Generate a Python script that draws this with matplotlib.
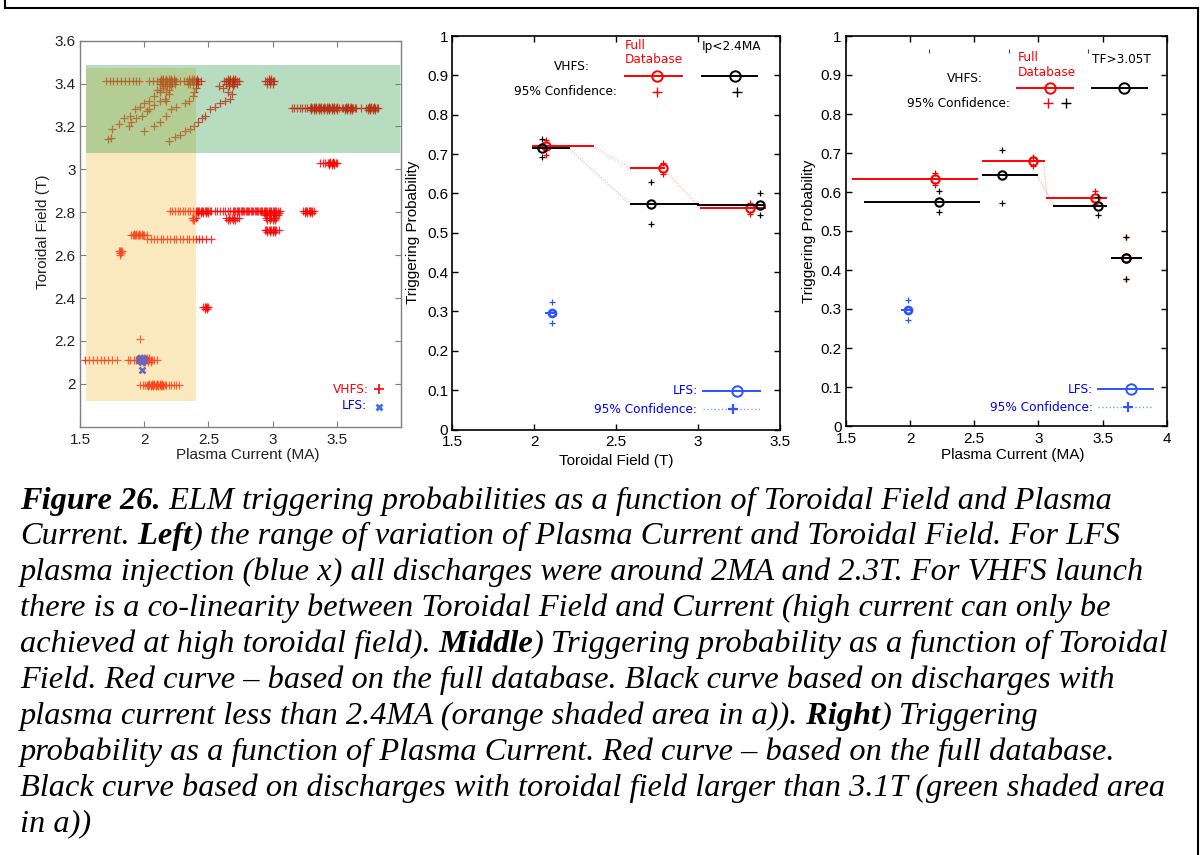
import matplotlib
matplotlib.use("Agg")
import matplotlib.pyplot as plt
from matplotlib.patches import Rectangle
from matplotlib.lines import Line2D
from matplotlib.ticker import FormatStrFormatter

plt.rcParams['font.family'] = ['Liberation Sans', 'DejaVu Sans']

# ---------------------------------------------------------------------------
# Left panel: operating space of the discharges, (Ip [MA], TF [T])
# VHFS flat-top runs, grouped by toroidal field: (TF, [Ip values])
vhfs_high_field = [
    (3.41, [1.70, 1.73, 1.76, 1.79, 1.82, 1.85, 1.88, 1.91, 1.94, 1.96,
            2.04, 2.07, 2.10, 2.12, 2.13, 2.14, 2.15, 2.16, 2.17, 2.18, 2.19, 2.20,
            2.21, 2.22, 2.23, 2.24, 2.25,
            2.28, 2.31, 2.33, 2.35, 2.36, 2.37, 2.38, 2.39, 2.40, 2.41, 2.42, 2.44,
            2.62, 2.64, 2.65, 2.66, 2.67, 2.68, 2.69, 2.70, 2.71, 2.72, 2.74,
            2.94, 2.96, 2.97, 2.98, 2.99, 3.00, 3.01]),
    (3.42, [2.13, 2.15, 2.17, 2.19, 2.21, 2.23, 2.35, 2.37, 2.39, 2.41,
            2.65, 2.67, 2.69, 2.71, 2.97, 2.99]),
    (3.40, [2.12, 2.14, 2.16, 2.18, 2.20, 2.22, 2.24, 2.34, 2.36, 2.38, 2.40, 2.42,
            2.64, 2.66, 2.68, 2.70, 2.72, 2.96, 2.98, 3.00]),
    (3.39, [2.15, 2.18, 2.21, 2.66, 2.69]),
    (3.285, [3.15, 3.17, 3.19, 3.21, 3.23, 3.25, 3.27, 3.29, 3.30, 3.31, 3.32, 3.33,
             3.34, 3.35, 3.36, 3.37, 3.38, 3.39, 3.40, 3.41, 3.42, 3.43, 3.44, 3.45,
             3.46, 3.47, 3.48, 3.49, 3.50, 3.52, 3.54, 3.55, 3.56, 3.57, 3.58, 3.59,
             3.60, 3.61, 3.62, 3.63, 3.64, 3.65, 3.69, 3.73, 3.74, 3.75, 3.76, 3.77,
             3.78, 3.79, 3.80, 3.81, 3.82]),
    (3.277, [3.30, 3.32, 3.34, 3.36, 3.38, 3.40, 3.42, 3.44, 3.46, 3.48, 3.50,
             3.56, 3.58, 3.60, 3.62, 3.74, 3.76, 3.78, 3.80]),
    (3.293, [3.30, 3.32, 3.34, 3.36, 3.38, 3.40, 3.42, 3.44, 3.46, 3.48, 3.50,
             3.57, 3.59, 3.61, 3.75, 3.77, 3.79]),
]

vhfs_low_field = [
    (3.028, [3.37, 3.39, 3.41, 3.43, 3.44, 3.45, 3.46, 3.47, 3.48, 3.49, 3.50]),
    (3.020, [3.44, 3.46, 3.48]),
    (3.035, [3.45, 3.47]),
    (2.805, [2.20, 2.22, 2.24, 2.26, 2.28, 2.30, 2.32, 2.34, 2.36, 2.38,
             2.40, 2.41, 2.42, 2.43, 2.44, 2.45, 2.46, 2.47, 2.48, 2.49, 2.50, 2.51, 2.52,
             2.55, 2.57, 2.59, 2.61, 2.63, 2.65, 2.67, 2.69,
             2.70, 2.71, 2.72, 2.73, 2.74, 2.75, 2.76, 2.77, 2.78, 2.79, 2.80, 2.81,
             2.82, 2.83, 2.84, 2.85, 2.86, 2.87, 2.88, 2.89, 2.90, 2.91, 2.92,
             2.93, 2.94, 2.95, 2.96, 2.97, 2.98, 2.99, 3.00, 3.01, 3.02, 3.03, 3.04, 3.06,
             3.24, 3.25, 3.26, 3.27, 3.28, 3.29, 3.30, 3.31, 3.32]),
    (2.795, [2.42, 2.44, 2.46, 2.48, 2.50, 2.93, 2.95, 2.97, 2.99, 3.01, 3.03, 3.05,
             3.25, 3.27, 3.29, 3.31]),
    (2.785, [2.94, 2.96, 2.98, 3.00, 3.02, 3.04]),
    (2.775, [2.37, 2.38, 2.39, 2.40, 2.64, 2.66, 2.68, 2.70, 2.72, 2.74,
             2.95, 2.97, 2.99, 3.01, 3.03]),
    (2.765, [2.38, 2.39, 2.65, 2.67, 2.69, 2.71, 2.96, 2.98, 3.00, 3.02]),
    (2.717, [2.94, 2.95, 2.96, 2.97, 2.98, 2.99, 3.00, 3.01, 3.02, 3.03, 3.05]),
    (2.710, [2.96, 2.98, 3.00, 3.02]),
    (2.693, [1.90, 1.91, 1.92, 1.93, 1.94, 1.95, 1.96, 1.97, 1.98, 1.99, 2.00, 2.02]),
    (2.700, [1.92, 1.94, 1.96, 1.98]),
    (2.675, [2.02, 2.05, 2.08, 2.10, 2.13, 2.15, 2.18, 2.20, 2.23, 2.25, 2.28, 2.30,
             2.33, 2.35, 2.38, 2.40, 2.43, 2.45, 2.48, 2.52]),
    (2.620, [1.80, 1.81, 1.82, 1.83]),
    (2.610, [1.81, 1.82]),
    (2.600, [1.815]),
    (2.356, [2.46, 2.47, 2.48, 2.49, 2.50]),
    (2.350, [2.47, 2.49]),
    (2.210, [1.97]),
    (2.110, [1.54, 1.57, 1.60, 1.63, 1.66, 1.69, 1.72, 1.75, 1.79,
             1.87, 1.89, 1.92, 1.94, 1.95, 1.96, 1.97, 1.98, 1.99, 2.00, 2.01, 2.02,
             2.03, 2.04, 2.05, 2.06, 2.08, 2.10]),
    (2.120, [1.96, 1.98, 2.00, 2.02, 2.04]),
    (2.100, [1.97, 1.99, 2.01, 2.03, 2.05]),
    (1.995, [1.97, 1.99, 2.01, 2.02, 2.03, 2.04, 2.05, 2.06, 2.07, 2.08, 2.09, 2.10,
             2.11, 2.12, 2.13, 2.14, 2.15, 2.16, 2.17, 2.19, 2.21, 2.23, 2.25, 2.27]),
    (1.990, [2.03, 2.05, 2.07, 2.09, 2.11, 2.13, 2.15]),
    (2.000, [2.04, 2.06, 2.08, 2.10, 2.12, 2.14]),
]

# VHFS current/field ramps: (Ip values, TF values)
vhfs_ramps = [
    ([1.72, 1.74, 1.75, 1.80, 1.84, 1.89, 1.93, 1.97, 2.00, 2.04, 2.08, 2.12],
     [3.14, 3.145, 3.19, 3.21, 3.24, 3.25, 3.28, 3.29, 3.31, 3.32, 3.34, 3.37]),
    ([1.88, 1.90, 1.94, 1.98, 2.02, 2.04, 2.08, 2.12, 2.16, 2.19],
     [3.20, 3.22, 3.24, 3.25, 3.27, 3.28, 3.30, 3.32, 3.33, 3.35]),
    ([2.00, 2.08, 2.12, 2.17, 2.21, 2.25],
     [3.18, 3.20, 3.22, 3.25, 3.28, 3.29]),
    ([2.19, 2.24, 2.28, 2.32, 2.36, 2.39, 2.42, 2.45, 2.47, 2.51, 2.55, 2.59, 2.63,
      2.67, 2.68, 2.65, 2.61, 2.58],
     [3.13, 3.15, 3.16, 3.18, 3.19, 3.20, 3.22, 3.24, 3.25, 3.28, 3.29, 3.31, 3.32,
      3.33, 3.35, 3.36, 3.38, 3.39]),
    ([2.32, 2.35, 2.38, 2.39, 2.40],
     [3.31, 3.32, 3.34, 3.36, 3.38]),
    ([2.10, 2.12, 2.15, 2.17, 2.17, 2.19],
     [3.37, 3.36, 3.38, 3.36, 3.32, 3.37]),
]

# LFS discharges
lfs_ip = [1.96, 1.97, 1.98, 1.99, 2.00, 1.97, 1.99, 1.98, 1.985]
lfs_tf = [2.11, 2.11, 2.11, 2.11, 2.11, 2.12, 2.12, 2.10, 2.063]

# Database cuts used for the black curves
IP_CUT = 2.4      # MA  (orange region)
TF_CUT = 3.075    # T   (green region)

# ---------------------------------------------------------------------------
# Middle panel: triggering probability vs toroidal field
tf_red_bins = [(1.995, 2.36), (2.59, 2.79), (3.02, 3.41)]
tf_red_x = [2.07, 2.787, 3.315]
tf_red_p = [0.720, 0.664, 0.562]
tf_red_lo = [0.698, 0.650, 0.548]
tf_red_hi = [0.736, 0.676, 0.576]

tf_blk_bins = [(1.995, 2.21), (2.59, 3.00), (3.00, 3.40)]
tf_blk_x = [2.05, 2.712, 3.376]
tf_blk_p = [0.716, 0.573, 0.571]
tf_blk_lo = [0.693, 0.521, 0.544]
tf_blk_hi = [0.737, 0.628, 0.600]

tf_lfs_bin = (2.07, 2.13)
tf_lfs_x, tf_lfs_p, tf_lfs_lo, tf_lfs_hi = 2.106, 0.297, 0.271, 0.323

# Right panel: triggering probability vs plasma current
ip_red_bins = [(1.552, 2.52), (2.57, 3.04), (3.068, 3.53), (3.576, 3.80)]
ip_red_x = [2.19, 2.956, 3.443, 3.686]
ip_red_p = [0.633, 0.679, 0.584, 0.432]
ip_red_lo = [0.618, 0.667, 0.570, 0.378]
ip_red_hi = [0.648, 0.690, 0.603, 0.485]

ip_blk_bins = [(1.648, 2.533), (2.57, 2.99), (3.125, 3.53), (3.576, 3.80)]
ip_blk_x = [2.227, 2.717, 3.463, 3.686]
ip_blk_p = [0.575, 0.644, 0.565, 0.432]
ip_blk_lo = [0.548, 0.573, 0.541, 0.378]
ip_blk_hi = [0.603, 0.708, 0.588, 0.485]

ip_lfs_bin = (1.935, 2.01)
ip_lfs_x, ip_lfs_p, ip_lfs_lo, ip_lfs_hi = 1.982, 0.297, 0.273, 0.323

# ---------------------------------------------------------------------------
W, H = 1201, 855
fig = plt.figure(figsize=(W / 100, H / 100), dpi=100)


def px_axes(l, t, r, b):
    return fig.add_axes([l / W, 1 - b / H, (r - l) / W, (b - t) / H])


ax1 = px_axes(80, 40.7, 401, 426.7)
ax2 = px_axes(452.3, 36, 780, 429.5)
ax3 = px_axes(846, 36, 1166.7, 426)

RED = '#ff0000'
LFS_BLUE = '#2a55ff'
ORANGE = (242 / 255, 194 / 255, 75 / 255)
GREEN = (34 / 255, 148 / 255, 62 / 255)

# ---- left panel ----
for tf, ips in vhfs_high_field + vhfs_low_field:
    ax1.plot(ips, [tf] * len(ips), '+', color=RED, ms=6, mew=0.9, alpha=0.8, zorder=2)
for ips, tfs in vhfs_ramps:
    ax1.plot(ips, tfs, '+', color=RED, ms=6, mew=0.9, alpha=0.8, zorder=2)
ax1.plot(lfs_ip, lfs_tf, 'x', color='#2030ff', ms=4.5, mew=1.8, zorder=2.5)

x0_shade, x1_shade = 1.545, 3.99
ax1.add_patch(Rectangle((x0_shade, 1.918), IP_CUT + 0.007 - x0_shade, 3.474 - 1.918,
                        fc=ORANGE, alpha=0.36, lw=0, zorder=3))
ax1.add_patch(Rectangle((x0_shade, TF_CUT), x1_shade - x0_shade, 3.487 - TF_CUT,
                        fc=GREEN, alpha=0.325, lw=0, zorder=3.1))

ax1.set_xlim(1.5, 4.0)
ax1.set_ylim(1.8, 3.6)
ax1.set_xticks([1.5, 2, 2.5, 3, 3.5])
ax1.set_yticks([2, 2.2, 2.4, 2.6, 2.8, 3, 3.2, 3.4, 3.6])
ax1.xaxis.set_major_formatter(FormatStrFormatter('%g'))
ax1.yaxis.set_major_formatter(FormatStrFormatter('%g'))
for s in ax1.spines.values():
    s.set_color('#808080')
    s.set_linewidth(1.0)
ax1.tick_params(direction='in', top=True, right=True, length=4, width=0.8,
                color='#808080', labelsize=11, labelcolor='#222222')
ax1.tick_params(axis='y', pad=3)
ax1.tick_params(axis='x', pad=4.5)
ax1.set_xlabel('Plasma Current (MA)', fontsize=11, color='#222222')
ax1.set_ylabel('Toroidal Field (T)', fontsize=11, color='#222222')
ax1.xaxis.set_label_coords(0.522, -0.056)
ax1.yaxis.set_label_coords(-0.093, 0.504)

tr = ax1.transAxes
ax1.text(0.900, 0.097, 'VHFS:', color=RED, fontsize=8.7, ha='right', va='center',
         family='DejaVu Sans', transform=tr)
ax1.plot([0.932], [0.097], '+', color=RED, ms=7, mew=1.2, transform=tr)
ax1.text(0.894, 0.054, 'LFS:', color='blue', fontsize=8.7, ha='right', va='center',
         family='DejaVu Sans', transform=tr)
ax1.plot([0.932], [0.050], 'x', color='#3f6fff', ms=5, mew=2, transform=tr)


# ---- probability panels ----
def prob_axes(ax, xlim, xticks, xlabel):
    ax.set_xlim(*xlim)
    ax.set_ylim(0, 1)
    ax.set_xticks(xticks)
    ax.set_yticks([i / 10 for i in range(11)])
    ax.xaxis.set_major_formatter(FormatStrFormatter('%g'))
    ax.yaxis.set_major_formatter(FormatStrFormatter('%g'))
    for s in ax.spines.values():
        s.set_linewidth(1.2)
    ax.tick_params(direction='in', top=True, right=True, length=4, width=1,
                   labelsize=11)
    ax.tick_params(axis='y', pad=3)
    ax.tick_params(axis='x', pad=4)
    ax.set_xlabel(xlabel, fontsize=11)
    ax.set_ylabel('Triggering Probability', fontsize=11)


def draw_bins(ax, bins, xm, p, lo, hi, color, z):
    for (a, b), pv in zip(bins, p):
        ax.plot([a, b], [pv, pv], color=color, lw=1.4, zorder=z)
    ax.plot(xm, p, 'o', mfc='none', mec=color, ms=6, mew=1.5, zorder=z + 0.1)
    ax.plot(xm, lo, '+', color=color, ms=5, mew=0.9, zorder=z + 0.1)
    ax.plot(xm, hi, '+', color=color, ms=5, mew=0.9, zorder=z + 0.1)


def connect(ax, bins, p, pairs, color):
    for i in pairs:
        ax.plot([bins[i][1], bins[i + 1][0]], [p[i], p[i + 1]], ':', color=color,
                lw=0.7, zorder=1)
        ax.plot([bins[i][1], bins[i + 1][0]], [p[i] - 0.005, p[i + 1] - 0.005], ':',
                color=color, lw=0.5, zorder=1)


def draw_lfs(ax, bin_, x, p, lo, hi):
    ax.plot(list(bin_), [p, p], color=LFS_BLUE, lw=1.4, zorder=3)
    ax.plot([x], [p], 'o', mfc='none', mec=LFS_BLUE, ms=5, mew=2, zorder=3)
    ax.plot([x, x], [lo, hi], '+', color=LFS_BLUE, ms=5, mew=0.9, zorder=3)


def legend_block(ax, f, title_black):
    tr = ax.transAxes
    ax.text(f['full_x'], f['full_y'], 'Full\nDatabase', color=RED, fontsize=8.7,
            ha='left', va='center', family='DejaVu Sans', linespacing=1.15, transform=tr)
    ax.text(f['blk_x0'], f['blk_title_y'], title_black, color='black', fontsize=8.7,
            ha='left', va='center', family='DejaVu Sans', transform=tr)
    ax.text(f['vhfs_x'], f['vhfs_y'], 'VHFS:', color='black', fontsize=8.7,
            ha='right', va='center', family='DejaVu Sans', transform=tr)
    ax.plot([f['red_x0'], f['red_x1']], [f['line_y']] * 2, color=RED, lw=1.4, transform=tr)
    ax.plot([f['red_c']], [f['line_y']], 'o', mfc='none', mec=RED, ms=7.5, mew=1.4,
            transform=tr)
    ax.plot([f['blk_x0'], f['blk_x1']], [f['line_y']] * 2, color='black', lw=1.4,
            transform=tr)
    ax.plot([f['blk_c']], [f['line_y']], 'o', mfc='none', mec='black', ms=7.5, mew=1.4,
            transform=tr)
    ax.text(f['conf_x'], f['conf_y'], '95% Confidence:', color='black', fontsize=8.7,
            ha='right', va='center', family='DejaVu Sans', transform=tr)
    ax.plot([f['red_p']], [f['conf_y']], '+', color=RED, ms=7, mew=1.0, transform=tr)
    ax.plot([f['blk_p']], [f['conf_y']], '+', color='black', ms=7, mew=1.0, transform=tr)
    # LFS entries
    ax.text(f['lfs_x'], f['lfs_y'], 'LFS:', color='blue', fontsize=8.7,
            ha='right', va='center', family='DejaVu Sans', transform=tr)
    ax.plot([f['lfs_l0'], f['lfs_l1']], [f['lfs_y']] * 2, color=LFS_BLUE, lw=1.4,
            transform=tr)
    ax.plot([f['lfs_c']], [f['lfs_y']], 'o', mfc='none', mec=LFS_BLUE, ms=7.5, mew=1.4,
            transform=tr)
    ax.text(f['lfs_conf_x'], f['lfs_conf_y'], '95% Confidence:', color='blue',
            fontsize=8.7, ha='right', va='center', family='DejaVu Sans', transform=tr)
    ax.plot([f['lfs_l0'], f['lfs_l1']], [f['lfs_conf_y']] * 2, ':', color='#8899ff',
            lw=1.0, transform=tr)
    ax.plot([f['lfs_p']], [f['lfs_conf_y']], '+', color=LFS_BLUE, ms=7, mew=1.6,
            transform=tr)


# middle
prob_axes(ax2, (1.5, 3.5), [1.5, 2, 2.5, 3, 3.5], 'Toroidal Field (T)')
ax2.xaxis.set_label_coords(0.5, -0.062)
ax2.yaxis.set_label_coords(-0.099, 0.5)
connect(ax2, tf_red_bins, tf_red_p, [0, 1], '#ffb0b0')
connect(ax2, tf_blk_bins, tf_blk_p, [0], '#c0c0c0')
draw_bins(ax2, tf_red_bins, tf_red_x, tf_red_p, tf_red_lo, tf_red_hi, RED, 2)
draw_bins(ax2, tf_blk_bins, tf_blk_x, tf_blk_p, tf_blk_lo, tf_blk_hi, 'black', 2.5)
draw_lfs(ax2, tf_lfs_bin, tf_lfs_x, tf_lfs_p, tf_lfs_lo, tf_lfs_hi)
legend_block(ax2, dict(full_x=0.527, full_y=0.958, blk_title_y=0.974,
                       vhfs_x=0.420, vhfs_y=0.922, line_y=0.899,
                       red_x0=0.527, red_x1=0.700, red_c=0.625,
                       blk_x0=0.761, blk_x1=0.931, blk_c=0.863,
                       conf_x=0.503, conf_y=0.858, red_p=0.625, blk_p=0.869,
                       lfs_x=0.749, lfs_y=0.099, lfs_l0=0.765, lfs_l1=0.939,
                       lfs_c=0.869, lfs_conf_x=0.747, lfs_conf_y=0.051, lfs_p=0.856),
             'Ip<2.4MA')

# right
prob_axes(ax3, (1.5, 4.0), [1.5, 2, 2.5, 3, 3.5, 4], 'Plasma Current (MA)')
ax3.xaxis.set_label_coords(0.52, -0.057)
ax3.yaxis.set_label_coords(-0.0935, 0.5)
connect(ax3, ip_red_bins, ip_red_p, [1], '#ffb0b0')
connect(ax3, ip_blk_bins, ip_blk_p, [1], '#c0c0c0')
draw_bins(ax3, ip_red_bins, ip_red_x, ip_red_p, ip_red_lo, ip_red_hi, RED, 2)
draw_bins(ax3, ip_blk_bins, ip_blk_x, ip_blk_p, ip_blk_lo, ip_blk_hi, 'black', 2.5)
draw_lfs(ax3, ip_lfs_bin, ip_lfs_x, ip_lfs_p, ip_lfs_lo, ip_lfs_hi)
legend_block(ax3, dict(full_x=0.534, full_y=0.926, blk_title_y=0.941,
                       vhfs_x=0.427, vhfs_y=0.892, line_y=0.867,
                       red_x0=0.533, red_x1=0.707, red_c=0.636,
                       blk_x0=0.766, blk_x1=0.938, blk_c=0.868,
                       conf_x=0.511, conf_y=0.827, red_p=0.630, blk_p=0.685,
                       lfs_x=0.769, lfs_y=0.094, lfs_l0=0.786, lfs_l1=0.957,
                       lfs_c=0.889, lfs_conf_x=0.770, lfs_conf_y=0.048, lfs_p=0.880),
             'TF>3.05T')
ax3.plot([0.260, 0.508, 0.756], [0.962] * 3, '|', color='#444444', ms=3, mew=0.8,
         transform=ax3.transAxes)

# ---- caption ----
caption = [
    [("Figure 26.", True),
     (" ELM triggering probabilities as a function of Toroidal Field and Plasma", False)],
    [("Current.", False), (" Left", True),
     (") the range of variation of Plasma Current and Toroidal Field. For LFS", False)],
    [("plasma injection (blue x) all discharges were around 2MA and 2.3T. For VHFS launch",
      False)],
    [("there is a co-linearity between Toroidal Field and Current (high current can only be",
      False)],
    [("achieved at high toroidal field).", False), (" Middle", True),
     (") Triggering probability as a function of Toroidal", False)],
    [("Field. Red curve \u2013 based on the full database. Black curve based on discharges with",
      False)],
    [("plasma current less than 2.4MA (orange shaded area in a)).", False), (" Right", True),
     (") Triggering", False)],
    [("probability as a function of Plasma Current. Red curve \u2013 based on the full database.",
      False)],
    [("Black curve based on discharges with toroidal field larger than 3.1T (green shaded area",
      False)],
    [("in a))", False)],
]
renderer = fig.canvas.get_renderer()
for i, segs in enumerate(caption):
    y = 1 - (508.5 + i * 35.9) / H
    x = 20 / W
    for s, bold in segs:
        t = fig.text(x, y, s, fontsize=23.3, family='Liberation Serif', style='italic',
                     weight='bold' if bold else 'normal', ha='left', va='baseline')
        x += t.get_window_extent(renderer).width / W

# page frame
for xs, ys in [([5, 5], [-10, 8]), ([5, 1198], [8, 8]), ([1198, 1198], [8, 865])]:
    fig.add_artist(Line2D([v / W for v in xs], [1 - v / H for v in ys], color='black',
                          lw=1.5, transform=fig.transFigure))

fig.savefig('out.png', dpi=100)
